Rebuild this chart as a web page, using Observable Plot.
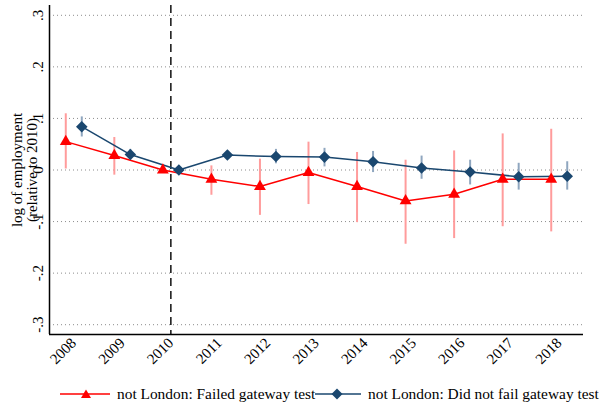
<!DOCTYPE html>
<html>
<head>
<meta charset="utf-8">
<script src="https://cdn.jsdelivr.net/npm/d3@7"></script>
<script src="https://cdn.jsdelivr.net/npm/@observablehq/plot@0.6"></script>
<style>
  body { margin: 0; background: #fff; }
  #chart { width: 600px; }
  .legend { position: relative; width: 600px; height: 34px; font-family: "Liberation Serif", serif; font-size: 15.4px; color: #000; }
  .legend span { position: absolute; top: 13px; white-space: nowrap; line-height: 18px; }
  .legend svg { position: absolute; top: 13px; }
</style>
</head>
<body>
<div id="chart"></div>
<script>
const years = [2008, 2009, 2010, 2011, 2012, 2013, 2014, 2015, 2016, 2017, 2018];
const yearLabels = ["2008","2009","2010","2011","2012","2013","2014","2015","2016","2017","2018"];

// not London: Failed gateway test
const failedEst = [0.055, 0.028, 0.000, -0.018, -0.032, -0.005, -0.032, -0.060, -0.047, -0.018, -0.018];
const failedLo  = [0.002, -0.010, null, -0.049, -0.088, -0.067, -0.102, -0.144, -0.133, -0.110, -0.120];
const failedHi  = [0.109, 0.063, null, 0.008, 0.021, 0.054, 0.034, 0.019, 0.037, 0.070, 0.079];

// not London: Did not fail gateway test
const passEst = [0.084, 0.030, 0.000, 0.029, 0.026, 0.025, 0.016, 0.004, -0.004, -0.013, -0.012];
const passLo  = [0.064, 0.020, null, 0.023, 0.012, 0.006, -0.005, -0.018, -0.029, -0.039, -0.039];
const passHi  = [0.103, 0.040, null, 0.035, 0.040, 0.042, 0.036, 0.027, 0.019, 0.013, 0.016];

const yTicks = [-0.3, -0.2, -0.1, 0, 0.1, 0.2, 0.3];
const yTickLabels = ["-.3", "-.2", "-.1", "0", ".1", ".2", ".3"];
const refYear = [2010];
const xDomain = [2007.5, 2018.5];
const yDomain = [-0.319, 0.319];
const legendLabels = ["not London: Failed gateway test", "not London: Did not fail gateway test"];

const failed = years.map((y, i) => ({year: y, est: failedEst[i], lo: failedLo[i], hi: failedHi[i]}));
const pass = years.map((y, i) => ({year: y, est: passEst[i], lo: passLo[i], hi: passHi[i]}));
const failedCI = failed.filter(d => d.lo != null);
const passCI = pass.filter(d => d.lo != null);

const RED = "#ff0000", RED_CI = "#ff9c9c", BLUE = "#1a476f", BLUE_CI = "#8fa6bf";
const FONT = "Liberation Serif, Times New Roman, serif";

const plot = Plot.plot({
  width: 600,
  height: 372,
  marginLeft: 49,
  marginRight: 17,
  marginTop: 5,
  marginBottom: 38,
  style: {fontFamily: FONT, fontSize: "15px", background: "#fff", color: "#000"},
  x: {type: "linear", domain: xDomain, axis: null},
  y: {domain: yDomain, axis: null},
  marks: [
    Plot.gridY(yTicks, {stroke: "#8c8c8c", strokeOpacity: 1, strokeDasharray: "1,3", strokeWidth: 1}),
    Plot.ruleX(refYear, {stroke: "#000", strokeWidth: 1.4, strokeDasharray: "8,5"}),
    Plot.ruleX(failedCI, {x: "year", y1: "lo", y2: "hi", stroke: RED_CI, strokeWidth: 2, dx: -8}),
    Plot.ruleX(passCI, {x: "year", y1: "lo", y2: "hi", stroke: BLUE_CI, strokeWidth: 2, dx: 8}),
    Plot.line(failed, {x: "year", y: "est", stroke: RED, strokeWidth: 1.5, dx: -8}),
    Plot.line(pass, {x: "year", y: "est", stroke: BLUE, strokeWidth: 1.5, dx: 8}),
    Plot.dot(failed, {x: "year", y: "est", symbol: "triangle", r: 4.4, fill: RED, stroke: "none", dx: -8}),
    Plot.dot(pass, {x: "year", y: "est", symbol: "diamond2", r: 5.2, fill: BLUE, stroke: "none", dx: 8}),
    Plot.ruleX([xDomain[0]], {stroke: "#000", strokeWidth: 1.5}),
    Plot.ruleY([yDomain[0]], {stroke: "#000", strokeWidth: 1.5}),
    Plot.axisX(years, {label: null, tickSize: 0, tickPadding: 6, tickRotate: -45, tickFormat: (d, i) => yearLabels[i], fontSize: 15, fontFamily: FONT}),
    Plot.text(yTicks, {y: d => d, text: (d, i) => yTickLabels[i], frameAnchor: "left", dx: -11, rotate: -90, textAnchor: "middle", fontSize: 15, fontFamily: FONT}),
    Plot.text(["log of employment\n(relative to 2010)"], {frameAnchor: "left", dx: -25, dy: 0, rotate: -90, textAnchor: "middle", lineHeight: 1.05, fontSize: 15, fontFamily: FONT})
  ]
});
document.getElementById("chart").appendChild(plot);

const legend = document.createElement("div");
legend.className = "legend";
legend.innerHTML = `
  <svg width="50" height="18" style="left:60px">
    <line x1="0" y1="9" x2="50" y2="9" stroke="${RED}" stroke-width="1.5"/>
    <path d="M26,4.5 L31,13 L21,13 Z" fill="${RED}"/>
  </svg>
  <span style="left:117px">${legendLabels[0]}</span>
  <svg width="46" height="18" style="left:315px">
    <line x1="0" y1="9" x2="46" y2="9" stroke="${BLUE}" stroke-width="1.5"/>
    <path d="M22,3.5 L27.5,9 L22,14.5 L16.5,9 Z" fill="${BLUE}"/>
  </svg>
  <span style="left:368px">${legendLabels[1]}</span>`;
document.getElementById("chart").appendChild(legend);
</script>
</body>
</html>
